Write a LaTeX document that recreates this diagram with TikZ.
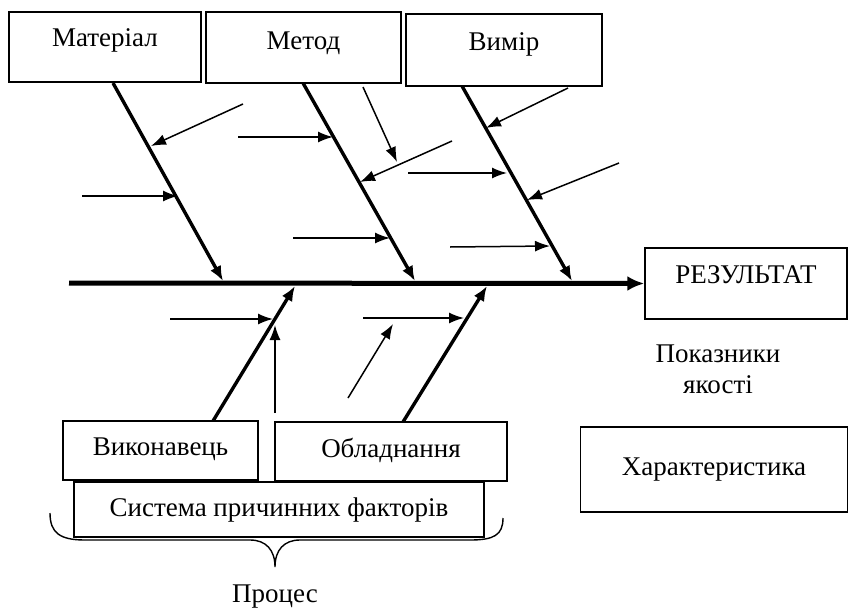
\documentclass[tikz,border=0pt]{standalone}
\usepackage{fontspec}
\setmainfont{Liberation Serif}
\usetikzlibrary{arrows.meta}
\begin{document}
\begin{tikzpicture}[x=1pt,y=-1pt,
  box/.style={draw,line width=1.4pt,inner sep=0pt,font=\fontsize{27}{31}\selectfont},
  lbl/.style={inner sep=0pt,align=center,font=\fontsize{27}{31}\selectfont},
  spine/.style={line width=5pt,-{Latex[length=17pt,width=15pt]}},
  bone/.style={line width=3.4pt,-{Latex[length=15pt,width=12pt]}},
  twig/.style={line width=1.5pt,-{Latex[length=15pt,width=11pt]}}]
\useasboundingbox (0,0) rectangle (850,610);
% boxes
\node[box,minimum width=192pt,minimum height=70pt] (mat) at (105,47) {\raisebox{18pt}{Матеріал}};
\node[box,minimum width=195pt,minimum height=71pt] (met) at (303.5,47.5) {\raisebox{14pt}{Метод}};
\node[box,minimum width=196pt,minimum height=72pt] (vym) at (504,50) {\raisebox{16pt}{Вимір}};
\node[box,minimum width=202pt,minimum height=71pt] (res) at (746,283.5) {\raisebox{18pt}{РЕЗУЛЬТАТ}};
\node[box,minimum width=267pt,minimum height=85pt] (har) at (714,469.5) {Характеристика};
\node[box,minimum width=195pt,minimum height=59pt] (vyk) at (160.5,450.5) {\raisebox{8pt}{Виконавець}};
\node[box,minimum width=232pt,minimum height=59pt] (obl) at (391,451.5) {\raisebox{8pt}{Обладнання}};
\node[box,minimum width=410pt,minimum height=55pt] (sys) at (279,509.5) {Система причинних факторів};
\node[lbl] (pok) at (718,369) {Показники\\якості};
\node[lbl] (proc) at (275,597) {Процес};
% spine
\coordinate (s0) at (69,283);
\draw[spine] (s0) -- (res.west);
% upper bones
\coordinate (m1) at (113,83);  \coordinate (m2) at (223,281);
\coordinate (e1) at (303,83);  \coordinate (e2) at (415,281);
\coordinate (v1) at (462,86);  \coordinate (v2) at (572,281);
\draw[bone] (m1) -- (m2);
\draw[bone] (e1) -- (e2);
\draw[bone] (v1) -- (v2);
% lower bones
\coordinate (k1) at (213,421); \coordinate (k2) at (295,286);
\coordinate (o1) at (403,422); \coordinate (o2) at (487,286);
\draw[bone] (k1) -- (k2);
\draw[bone] (o1) -- (o2);
% twigs, upper
\coordinate (a1) at (243,104); \coordinate (b1) at (151,146);
\coordinate (a2) at (82,196);  \coordinate (b2) at (178,196);
\coordinate (a3) at (238,137); \coordinate (b3) at (333,137);
\coordinate (a4) at (293,238); \coordinate (b4) at (390,238);
\coordinate (a5) at (452,141); \coordinate (b5) at (360,182);
\coordinate (a6) at (363,87);  \coordinate (b6) at (397,162);
\coordinate (a7) at (568,88);  \coordinate (b7) at (486,128);
\coordinate (a8) at (619,163); \coordinate (b8) at (527,200);
\coordinate (a9) at (408,173); \coordinate (b9) at (507,173);
\coordinate (a10) at (450,247); \coordinate (b10) at (550,246);
% twigs, lower
\coordinate (a11) at (170,319); \coordinate (b11) at (273,319);
\coordinate (a12) at (275,413); \coordinate (b12) at (275,325);
\coordinate (a13) at (363,318); \coordinate (b13) at (464,318);
\coordinate (a14) at (348,398); \coordinate (b14) at (393,324);
\foreach \i in {1,...,14} {\draw[twig] (a\i) -- (b\i);}
% brace
\draw[line width=1.4pt] (50,513) .. controls (50,533) and (60,540) .. (85,540)
  -- (250,540) .. controls (266,540) and (275,550) .. (275,567)
  .. controls (275,550) and (284,540) .. (300,540)
  -- (470,540) .. controls (494,540) and (503,535) .. (503,518);
\end{tikzpicture}
\end{document}
